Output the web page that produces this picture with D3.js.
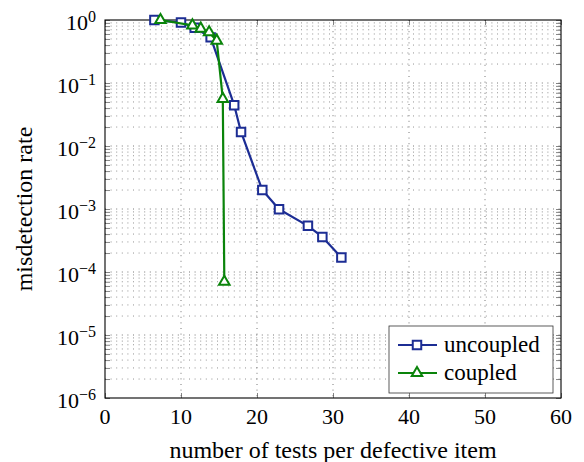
<!DOCTYPE html>
<html>
<head>
<meta charset="utf-8">
<script src="https://cdn.jsdelivr.net/npm/d3@7"></script>
<style>
  body { margin: 0; background: #fff; }
</style>
</head>
<body>
<svg id="chart" width="584" height="462"></svg>
<script>
// values
const uncoupledX = [6.5, 10, 11.8, 13.9, 17, 17.9, 20.7, 22.9, 26.7, 28.6, 31.1];
const uncoupledY = [1.0, 0.91, 0.755, 0.53, 0.0445, 0.0167, 0.002, 0.00099, 0.00054, 0.00036, 0.00017];
const coupledX = [7.3, 11.5, 12.6, 13.7, 14.7, 15.5, 15.7];
const coupledY = [1.0, 0.82, 0.73, 0.64, 0.47, 0.056, 0.00007];
const xTicks = [0, 10, 20, 30, 40, 50, 60];
const yExponents = [0, -1, -2, -3, -4, -5, -6];
const seriesNames = ['uncoupled', 'coupled'];

const blue = '#1c2d94', green = '#0a840a';
const serif = '"Liberation Serif"';

const margin = {top: 20, right: 23, bottom: 64, left: 105};
const width = 584, height = 462;
const svg = d3.select('#chart');

let x = d3.scaleLinear().domain([0, 60]).range([margin.left, width - margin.right]);
let y = d3.scaleLog().domain([1e-6, 1]).range([height - margin.bottom, margin.top]);

let grid = svg.append('g').attr('class', 'grid');

// minor horizontal grid at 2..9 x 10^k
let minorY = [];
yExponents.slice(1).forEach(e => {
    for (let m = 2; m <= 9; m++) minorY.push(m * Math.pow(10, e));
});
grid.selectAll('.minor-y')
    .data(minorY)
  .enter().append('line')
    .attr('x1', x(0)).attr('x2', x(60))
    .attr('y1', d => y(d)).attr('y2', d => y(d))
    .attr('stroke', '#777').attr('stroke-width', 0.8)
    .attr('stroke-dasharray', '1 4.6');

// major grid
grid.selectAll('.major-y')
    .data(yExponents.slice(1, -1))
  .enter().append('line')
    .attr('x1', x(0)).attr('x2', x(60))
    .attr('y1', d => y(Math.pow(10, d))).attr('y2', d => y(Math.pow(10, d)))
    .attr('stroke', '#555').attr('stroke-width', 0.8)
    .attr('stroke-dasharray', '1 4.6');
grid.selectAll('.major-x')
    .data(xTicks.slice(1, -1))
  .enter().append('line')
    .attr('x1', d => x(d)).attr('x2', d => x(d))
    .attr('y1', y(1)).attr('y2', y(1e-6))
    .attr('stroke', '#555').attr('stroke-width', 0.8)
    .attr('stroke-dasharray', '1 4.6');

// axes frame with ticks on all sides
let allY = minorY.concat(yExponents.map(e => Math.pow(10, e)));
let axisLeft = d3.axisLeft(y).tickValues(allY).tickSize(-5).tickFormat('');
let axisRight = d3.axisRight(y).tickValues(allY).tickSize(-5).tickFormat('');
let axisBottom = d3.axisBottom(x).tickValues(xTicks).tickSize(-5).tickFormat('');
let axisTop = d3.axisTop(x).tickValues(xTicks).tickSize(-5).tickFormat('');

[[axisLeft, `translate(${margin.left},0)`],
 [axisRight, `translate(${width - margin.right},0)`],
 [axisBottom, `translate(0,${height - margin.bottom})`],
 [axisTop, `translate(0,${margin.top})`]].forEach(([ax, t]) => {
    let g = svg.append('g').attr('transform', t).call(ax);
    g.select('.domain').remove();
    g.selectAll('line').attr('stroke', '#333').attr('stroke-width', 0.6);
});
svg.append('rect')
    .attr('x', x(0)).attr('y', y(1))
    .attr('width', x(60) - x(0)).attr('height', y(1e-6) - y(1))
    .attr('fill', 'none').attr('stroke', '#000').attr('stroke-width', 1.1);

// tick labels
svg.selectAll('.xlabel')
    .data(xTicks)
  .enter().append('text')
    .style('font-family', serif)
    .attr('x', d => x(d))
    .attr('y', height - margin.bottom + 26)
    .attr('text-anchor', 'middle')
    .attr('font-size', 22)
    .text(d => d);

let ylab = svg.selectAll('.ylabel')
    .data(yExponents)
  .enter().append('text')
    .style('font-family', serif)
    .attr('x', margin.left - 9)
    .attr('y', d => y(Math.pow(10, d)) + 10)
    .attr('text-anchor', 'end')
    .attr('font-size', 22);
ylab.append('tspan').text('10');
ylab.append('tspan')
    .attr('font-size', 16)
    .attr('dy', -8)
    .text(d => d < 0 ? '\u2212' + (-d) : d);

// axis titles
svg.append('text')
    .style('font-family', serif)
    .attr('x', (x(0) + x(60)) / 2)
    .attr('y', 458)
    .attr('text-anchor', 'middle')
    .attr('font-size', 24)
    .text('number of tests per defective item');
svg.append('text')
    .style('font-family', serif)
    .attr('transform', `translate(32,${(y(1) + y(1e-6)) / 2}) rotate(-90)`)
    .attr('text-anchor', 'middle')
    .attr('font-size', 24)
    .text('misdetection rate');

// series
const line = d3.line().x(d => x(d[0])).y(d => y(d[1]));
const uncoupled = d3.zip(uncoupledX, uncoupledY);
const coupled = d3.zip(coupledX, coupledY);

const square = d3.symbol().type(d3.symbolSquare).size(72);
const triangle = d3.symbol().type(d3.symbolTriangle).size(48);

function drawSeries(data, color, sym) {
    let g = svg.append('g');
    g.append('path')
        .datum(data)
        .attr('d', line)
        .attr('fill', 'none')
        .attr('stroke', color)
        .attr('stroke-width', 2.2)
        .attr('stroke-linejoin', 'round');
    g.selectAll('path.marker')
        .data(data)
      .enter().append('path')
        .attr('class', 'marker')
        .attr('transform', d => `translate(${x(d[0])},${y(d[1])})`)
        .attr('d', sym)
        .attr('fill', '#fff')
        .attr('stroke', color)
        .attr('stroke-width', 2);
}
drawSeries(uncoupled, blue, square);
drawSeries(coupled, green, triangle);

// legend
let legend = svg.append('g').attr('transform', 'translate(389,326)');
legend.append('rect')
    .attr('width', 164).attr('height', 67)
    .attr('fill', '#fff').attr('stroke', '#333').attr('stroke-width', 0.8);
let entries = legend.selectAll('.entry')
    .data(seriesNames)
  .enter().append('g')
    .attr('transform', (d, i) => `translate(0,${19 + i * 28})`);
entries.append('line')
    .attr('x1', 9).attr('x2', 48)
    .attr('stroke', (d, i) => i ? green : blue)
    .attr('stroke-width', 2.2);
entries.append('path')
    .attr('transform', 'translate(28,0)')
    .attr('d', (d, i) => i ? triangle() : square())
    .attr('fill', '#fff')
    .attr('stroke', (d, i) => i ? green : blue)
    .attr('stroke-width', 2);
entries.append('text')
    .style('font-family', serif)
    .attr('x', 55)
    .attr('y', 7)
    .attr('font-size', 23)
    .text(d => d);
</script>
</body>
</html>
